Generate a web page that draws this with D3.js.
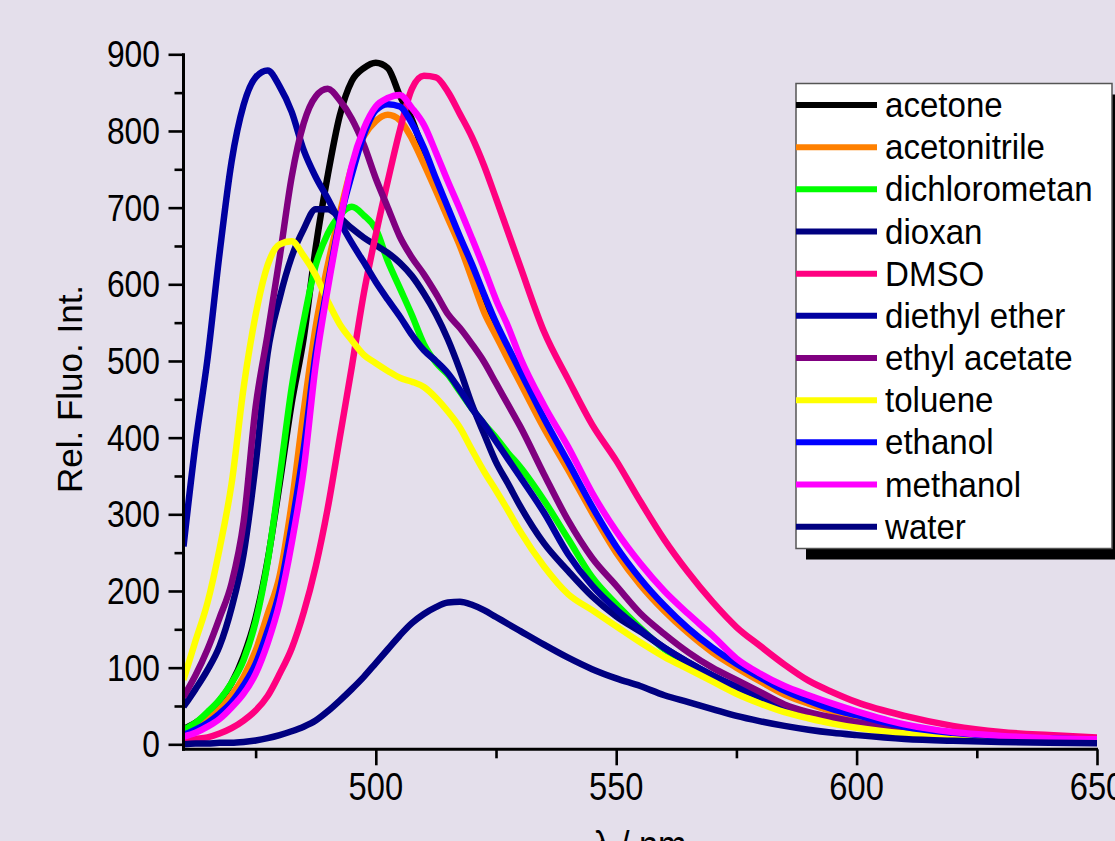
<!DOCTYPE html>
<html>
<head>
<meta charset="utf-8">
<script src="https://cdn.jsdelivr.net/npm/d3@7"></script>
<style>
  html, body { margin: 0; padding: 0; background: #e4dfeb; }
  svg { display: block; }
  text { font-family: "Liberation Sans", Arial, Helvetica, sans-serif; fill: #000; }
</style>
</head>
<body>
<svg id="chart" width="1115" height="841"></svg>
<script>
// Emission wavelength grid (nm)
const wavelengths = [460, 462.5, 465, 467.5, 470, 472.5, 475, 477.5, 480, 482.5, 485, 487.5, 490, 492.5,
  495, 497.5, 500, 502.5, 505, 507.5, 510, 512.5, 515, 517.5, 520, 522.5, 525, 527.5, 530,
  535, 540, 545, 550, 555, 560, 565, 570, 575, 580, 585, 590, 595, 600, 610, 620, 630, 640, 650];

// Relative fluorescence intensity per solvent, on the grid above
const acetone = [20, 28, 40, 57, 80, 115, 165, 240, 340, 445, 530, 648, 742, 820,
  865, 882, 889, 882, 846, 815, 772, 732, 695, 657, 616, 576, 542, 510, 480,
  419, 363, 306, 254, 212, 178, 148, 123, 103, 85, 68, 55, 45, 37, 23, 15, 10, 7.5, 6];
const acetonitrile = [14, 22, 33, 46, 64, 88, 122, 170, 220, 314, 435, 545, 625, 692,
  753, 793, 813, 821, 814, 790, 757, 722, 686, 650, 607, 564, 533, 502, 472,
  412, 358, 302, 250, 208, 174, 145, 120, 100, 82, 65, 53, 43, 35, 21, 14, 9.5, 7, 5.5];
const dichlorometan = [19, 28, 42, 58, 80, 110, 160, 238, 348, 465, 552, 625, 666, 690,
  701, 690, 672, 630, 595, 560, 522, 498, 482, 460, 438, 418, 400, 380, 362,
  318, 268, 218, 183, 152, 124, 104, 88, 74, 61, 49, 40, 32, 26, 17, 11, 7.5, 5, 3.5];
const dioxan = [49, 72, 97, 128, 178, 248, 365, 510, 582, 636, 672, 698, 698, 687,
  673, 661, 651, 641, 628, 611, 588, 561, 528, 488, 443, 405, 368, 340, 311,
  262, 226, 193, 167, 147, 126, 107, 90, 75, 62, 50, 41, 33, 26, 17, 11, 7.5, 5, 3.5];
const dmso = [5, 7, 9, 14, 21, 31, 44, 63, 92, 125, 172, 232, 308, 400,
  492, 588, 665, 735, 801, 855, 872, 870, 851, 822, 792, 755, 712, 668, 624,
  538, 476, 417, 370, 317, 267, 224, 186, 153, 128, 104, 83, 68, 55, 37, 24, 16, 12, 9];
const diethylEther = [258, 392, 503, 640, 760, 834, 870, 879, 858, 825, 775, 740, 712, 682,
  654, 629, 603, 580, 558, 534, 514, 500, 484, 462, 438, 418, 395, 372, 349,
  302, 248, 207, 176, 150, 126, 107, 90, 75, 62, 49, 40, 32, 26, 17, 11, 7.5, 5, 3.5];
const ethylAcetate = [62, 90, 124, 165, 210, 290, 440, 535, 635, 740, 810, 845, 855, 840,
  816, 782, 738, 700, 662, 635, 613, 588, 561, 543, 522, 499, 471, 443, 415,
  352, 292, 243, 207, 171, 144, 120, 100, 84, 68, 52, 42, 35, 29, 18, 12, 8, 6, 4];
const toluene = [84, 135, 185, 255, 340, 465, 560, 625, 652, 656, 637, 612, 578, 548,
  527, 508, 497, 487, 478, 473, 466, 452, 434, 413, 384, 356, 331, 305, 278,
  232, 196, 175, 154, 133, 114, 98, 82, 66, 53, 42, 34, 27, 21.5, 14, 10, 7, 5, 4];
const ethanol = [12, 19, 28, 40, 55, 77, 105, 148, 200, 285, 385, 510, 600, 683,
  743, 795, 827, 835, 832, 810, 778, 738, 700, 662, 626, 587, 550, 518, 487,
  425, 368, 310, 258, 216, 181, 151, 126, 105, 87, 70, 57, 46, 38, 23, 15, 10, 7.5, 6];
const methanol = [10, 15, 23, 33, 48, 66, 92, 132, 185, 262, 358, 495, 594, 680,
  755, 803, 832, 843, 847, 830, 808, 772, 734, 698, 660, 621, 580, 545, 505,
  442, 388, 328, 278, 236, 200, 170, 142, 112, 92, 76, 64, 53, 43, 26, 16, 11, 8, 6.5];
const water = [0, 1, 1, 2, 2, 3, 5, 8, 12, 17, 23, 31, 43, 57,
  72, 88, 106, 124, 142, 158, 170, 179, 185, 186, 182, 175, 166, 157, 148,
  130, 113, 98, 86, 76, 64, 55, 46, 37, 30, 24, 19, 15, 12, 7, 4.5, 3, 2, 1.5];

const solventNames = ["acetone", "acetonitrile", "dichlorometan", "dioxan", "DMSO", "diethyl ether",
  "ethyl acetate", "toluene", "ethanol", "methanol", "water"];
const solventValues = [acetone, acetonitrile, dichlorometan, dioxan, dmso, diethylEther,
  ethylAcetate, toluene, ethanol, methanol, water];
const solventColors = ["#000000", "#ff8000", "#00ff00", "#000080", "#ff0080", "#0000a0",
  "#800080", "#ffff00", "#0000ff", "#ff00ff", "#000080"];

const xMajorTicks = [500, 550, 600, 650];
const xMinorTicks = [475, 525, 575, 625];
const yMajorTicks = [0, 100, 200, 300, 400, 500, 600, 700, 800, 900];
const yMinorTicks = [50, 150, 250, 350, 450, 550, 650, 750, 850];
const xTitle = "λ / nm";
const yTitle = "Rel. Fluo. Int.";

const svg = d3.select("#chart");
const plot = { left: 183.5, right: 1097, top: 54.3, bottom: 749.3 };

const x = d3.scaleLinear().domain([460, 650]).range([plot.left, plot.right]);
const y = d3.scaleLinear().domain([-6.5, 900]).range([plot.bottom, plot.top]);

// background
svg.append("rect").attr("width", 1115).attr("height", 841).attr("fill", "#e4dfeb");

// clip region for the spectra
svg.append("defs").append("clipPath").attr("id", "plotClip")
  .append("rect")
  .attr("x", plot.left).attr("y", 0)
  .attr("width", plot.right - plot.left).attr("height", plot.bottom);

// spectra
const line = d3.line()
  .x((d, i) => x(wavelengths[i]))
  .y(d => y(d))
  .curve(d3.curveMonotoneX);

const curves = svg.append("g").attr("clip-path", "url(#plotClip)");
solventValues.forEach((vals, k) => {
  curves.append("path")
    .datum(vals)
    .attr("d", line)
    .attr("fill", "none")
    .attr("stroke", solventColors[k])
    .attr("stroke-width", 6.5)
    .attr("stroke-linejoin", "round")
    .attr("stroke-linecap", "butt");
});

// axes
const yAxisMajor = d3.axisLeft(y).tickValues(yMajorTicks).tickSize(15).tickFormat("");
const yAxisMinor = d3.axisLeft(y).tickValues(yMinorTicks).tickSize(9).tickFormat("");
const xAxisMajor = d3.axisBottom(x).tickValues(xMajorTicks).tickSize(16).tickFormat("");
const xAxisMinor = d3.axisBottom(x).tickValues(xMinorTicks).tickSize(9).tickFormat("");

function styleAxis(g) {
  g.select(".domain").remove();
  g.selectAll(".tick line").attr("stroke", "#000").attr("stroke-width", 2.6);
}

svg.append("g").attr("transform", `translate(${plot.left},0)`).call(yAxisMajor).call(styleAxis);
svg.append("g").attr("transform", `translate(${plot.left},0)`).call(yAxisMinor).call(styleAxis);
svg.append("g").attr("transform", `translate(0,${plot.bottom})`).call(xAxisMajor).call(styleAxis);
svg.append("g").attr("transform", `translate(0,${plot.bottom})`).call(xAxisMinor).call(styleAxis);

// axis lines
svg.append("line")
  .attr("x1", plot.left).attr("x2", plot.left)
  .attr("y1", plot.top - 1).attr("y2", plot.bottom + 1.5)
  .attr("stroke", "#000").attr("stroke-width", 3);
svg.append("line")
  .attr("x1", plot.left - 1.5).attr("x2", plot.right + 1)
  .attr("y1", plot.bottom).attr("y2", plot.bottom)
  .attr("stroke", "#000").attr("stroke-width", 3);

// tick labels (narrow face)
svg.append("g").selectAll("text").data(yMajorTicks).join("text")
  .attr("transform", d => `translate(160,${y(d) + 13}) scale(0.86,1)`)
  .attr("text-anchor", "end")
  .attr("font-size", 37)
  .text(d => d);

svg.append("g").selectAll("text").data(xMajorTicks).join("text")
  .attr("transform", d => `translate(${x(d)},800) scale(0.86,1)`)
  .attr("text-anchor", "middle")
  .attr("font-size", 38)
  .text(d => d);

// axis titles
svg.append("text")
  .attr("transform", "translate(82,389) rotate(-90)")
  .attr("text-anchor", "middle")
  .attr("font-size", 35)
  .text(yTitle);

svg.append("text")
  .attr("transform", "translate(640,858) scale(0.9,1)")
  .attr("text-anchor", "middle")
  .attr("font-size", 38)
  .text(xTitle);

// legend
const legend = { x: 796, y: 83.5, w: 316, h: 465, rowY0: 105, rowStep: 42.17 };
svg.append("rect")
  .attr("x", legend.x + 10).attr("y", legend.y + 11)
  .attr("width", legend.w).attr("height", legend.h)
  .attr("fill", "#000");
svg.append("rect")
  .attr("x", legend.x).attr("y", legend.y)
  .attr("width", legend.w).attr("height", legend.h)
  .attr("fill", "#fff").attr("stroke", "#555").attr("stroke-width", 1.5);

const rows = svg.append("g").selectAll("g").data(solventNames).join("g")
  .attr("transform", (d, i) => `translate(0,${legend.rowY0 + i * legend.rowStep})`);
rows.append("line")
  .attr("x1", legend.x).attr("x2", 877)
  .attr("y1", 0).attr("y2", 0)
  .attr("stroke", (d, i) => solventColors[i])
  .attr("stroke-width", 6);
rows.append("text")
  .attr("transform", "translate(885,12) scale(0.945,1)")
  .attr("font-size", 35)
  .text(d => d);
</script>
</body>
</html>
